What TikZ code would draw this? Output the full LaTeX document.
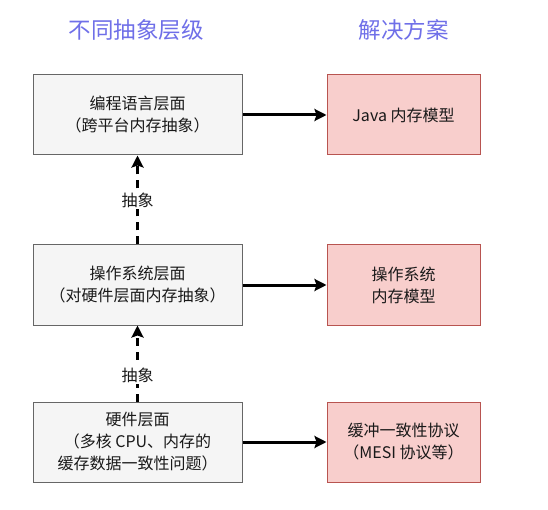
\documentclass[tikz,border=0pt]{standalone}
\usepackage{fontspec}
\newfontfamily\cjk{Noto Sans CJK SC}
\usetikzlibrary{arrows.meta}
\definecolor{leftfill}{HTML}{F5F5F5}
\definecolor{leftdraw}{HTML}{666666}
\definecolor{solfill}{HTML}{F8CECC}
\definecolor{soldraw}{HTML}{B85450}
\definecolor{titleblue}{HTML}{6F6FE8}
\begin{document}
\begin{tikzpicture}[x=1pt,y=-1pt,every node/.style={font=\cjk\fontsize{16}{22}\selectfont,text=black!90},
  levelbox/.style={draw=leftdraw,fill=leftfill,line width=1pt,minimum width=209pt,minimum height=80pt,align=center,inner sep=0pt},
  solbox/.style={draw=soldraw,fill=solfill,line width=1pt,minimum width=153pt,minimum height=80pt,align=center,inner sep=0pt},
  maparrow/.style={line width=3pt,-{Stealth[length=12pt,width=12pt,inset=2pt]}},
  absarrow/.style={line width=3pt,dash pattern=on 8pt off 6pt,-{Stealth[length=12pt,width=12pt,inset=2pt]}}]
\useasboundingbox (0,0) rectangle (548,510);
% column titles
\node[font=\cjk\fontsize{22.5}{26}\selectfont,text=titleblue] (tleft) at (136,30) {不同抽象层级};
\node[font=\cjk\fontsize{22.5}{26}\selectfont,text=titleblue] (tright) at (403.5,30) {解决方案};
% abstraction levels
\node[levelbox] (lang) at (137.5,115) {编程语言层面\\（跨平台内存抽象）};
\node[levelbox] (os) at (137.5,285) {操作系统层面\\（对硬件层面内存抽象）};
\node[levelbox] (hw) at (137.5,442) {硬件层面\\（多核 CPU、内存的\\缓存数据一致性问题）};
% solutions
\node[solbox] (jmm) at (403.5,115) {Java 内存模型};
\node[solbox] (osmm) at (403.5,285) {操作系统\\内存模型};
\node[solbox] (mesi) at (403.5,442) {缓冲一致性协议\\（MESI 协议等）};
% connectors
\foreach \a/\b in {lang/jmm,os/osmm,hw/mesi} {\draw[maparrow] (\a) -- (\b);}
\draw[absarrow] (os) -- (lang) node[midway,fill=white,inner sep=2pt] (absup) {抽象};
\draw[absarrow] (hw) -- (os) node[pos=0.35,fill=white,inner sep=2pt] (abslow) {抽象};
\end{tikzpicture}
\end{document}
